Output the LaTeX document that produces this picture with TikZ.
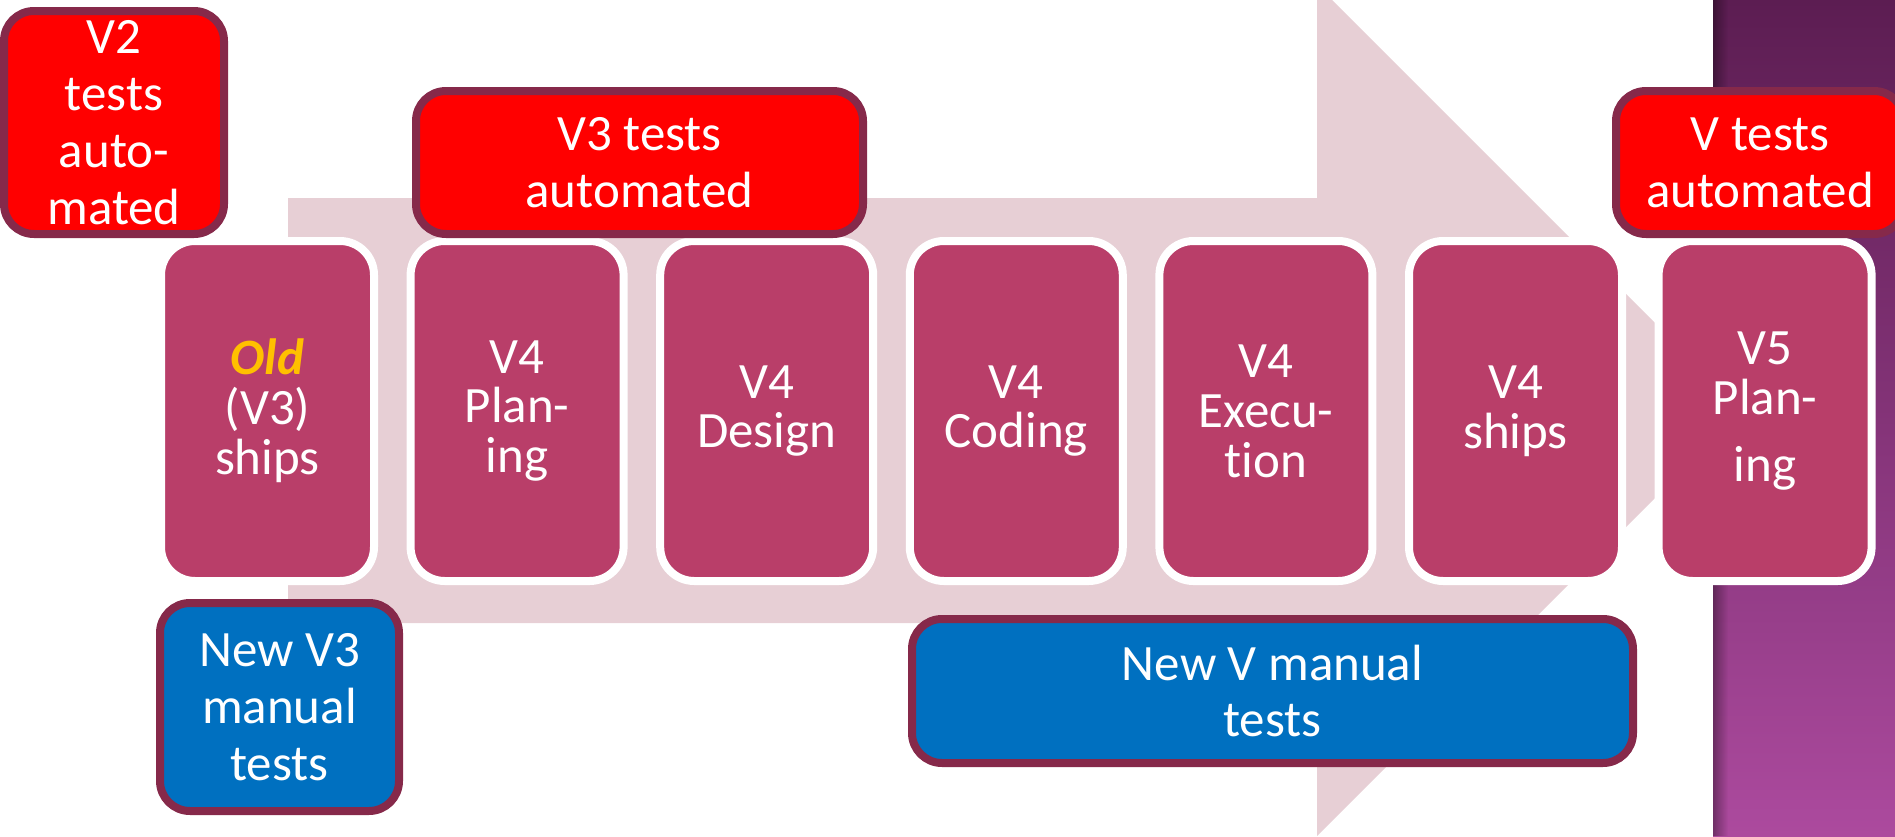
\documentclass[tikz,border=0pt]{standalone}
\usepackage{fontspec}
\setmainfont{Carlito}[Ligatures=NoCommon]
\usetikzlibrary{positioning, fadings}

\definecolor{stagepink}{RGB}{185,62,105}
\definecolor{arrowpink}{RGB}{231,207,213}
\definecolor{testred}{RGB}{255,0,0}
\definecolor{testblue}{RGB}{0,112,192}
\definecolor{testframe}{RGB}{134,41,74}
\definecolor{oldgold}{RGB}{255,192,0}
\definecolor{paneltop}{RGB}{92,29,82}
\definecolor{panelbot}{RGB}{172,74,158}

\begin{document}
\begin{tikzpicture}[
            node distance=0.366cm,
            font=\fontsize{14.5}{14.2}\selectfont,
            % Styles
            stage/.style={rectangle, draw=white, line width=0.08cm, fill=stagepink, rounded corners=0.34cm, minimum width=2.13cm, minimum height=3.4cm, inner sep=0pt, outer sep=0pt, align=center, text=white},
            autotest/.style={rectangle, draw=testframe, line width=0.08cm, fill=testred, rounded corners=0.3cm, inner sep=0pt, outer sep=0pt, align=center, text=white, font=\fontsize{14.5}{16.2}\selectfont},
            manualtest/.style={autotest, fill=testblue}
        ]

        % --- BACKGROUND: panel and big arrow ---
        \useasboundingbox (0,0) rectangle (18.95,8.36);
        \clip (0,0) rectangle (18.95,8.36);
        \shade [top color=paneltop, bottom color=panelbot] (17.13,0) rectangle (18.95,8.36);
        \fill [black, opacity=0.35, path fading=east] (17.13,0) rectangle (17.28,8.36);
        \fill [arrowpink] (2.88,6.38) -- (13.17,6.38) -- (13.17,8.51) -- (17.425,4.255)
            -- (13.17,0) -- (13.17,2.13) -- (2.88,2.13) -- cycle;

        % --- ROW: release stages, left to right ---
        \node (old) [stage] at (2.675,4.25) {\textcolor{oldgold}{\textbf{\textit{Old}}}\\(V3)\\ships};
        \node (plan) [stage, right=of old] {V4\\Plan-\\ing};
        \node (design) [stage, right=of plan] {V4\\Design};
        \node (coding) [stage, right=of design] {V4\\Coding};
        \node (exec) [stage, right=of coding] {V4\\Execu-\\tion};
        \node (ships) [stage, right=of exec] {V4\\ships};
        \node (next) [stage, right=of ships] {V5\\Plan-\\[0.17cm]ing};

        % --- AUTOMATED TESTS (top) ---
        \node (v2auto) [autotest, minimum width=2.2cm, minimum height=2.23cm] at (1.14,7.135) {V2\\tests\\auto-\\mated};
        \node (v3auto) [autotest, minimum width=4.47cm, minimum height=1.43cm] at (6.395,6.735) {V3 tests\\automated};
        \node (vauto) [autotest, minimum width=2.88cm, minimum height=1.43cm] at (17.60,6.735) {V tests\\automated};

        % --- MANUAL TESTS (bottom) ---
        \node (v3man) [manualtest, minimum width=2.39cm, minimum height=2.08cm] at (2.795,1.29) {New V3\\manual\\tests};
        \node (vman) [manualtest, minimum width=7.21cm, minimum height=1.44cm] at (12.725,1.45) {New V manual\\tests};

        \end{tikzpicture}
\end{document}
